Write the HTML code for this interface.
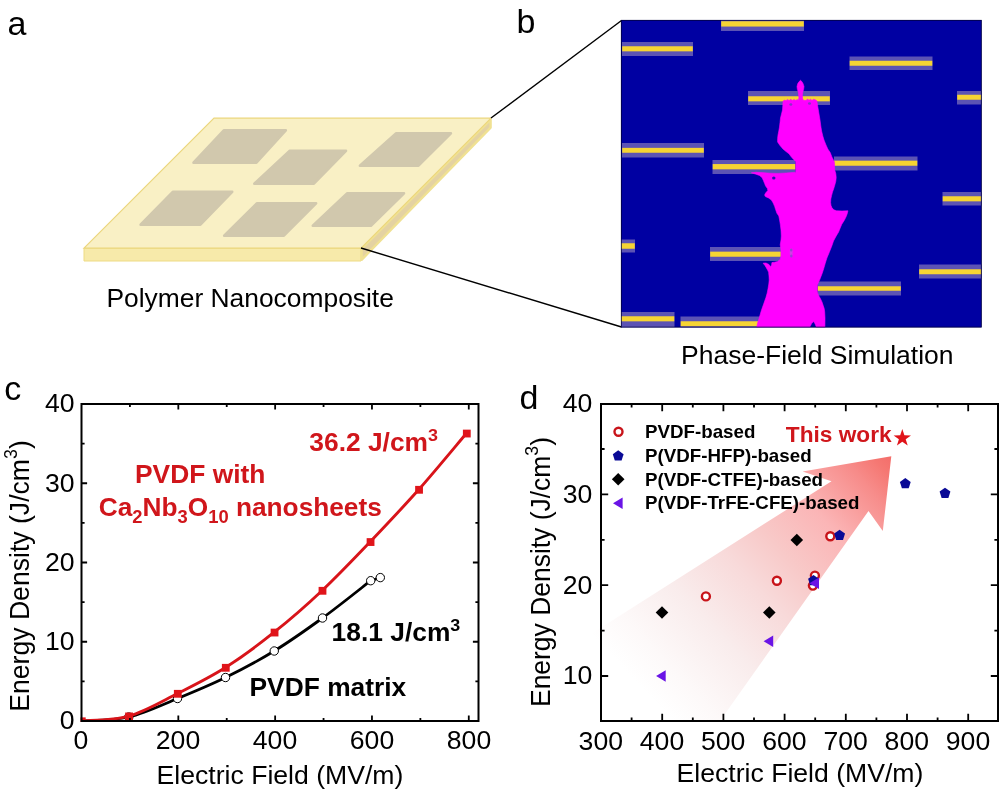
<!DOCTYPE html>
<html lang="en">
<head>
<meta charset="utf-8">
<title>Polymer nanocomposite energy density figure</title>
<style>
html,body{margin:0;padding:0;background:#fff;}
body{width:1000px;height:791px;overflow:hidden;}
svg{display:block;}
text{font-family:"Liberation Sans",Arial,sans-serif;fill:#000;}
.pl{font-size:34px;}
.tk{font-size:26.6px;}
.ax{font-size:26.6px;}
.cap{font-size:26.5px;}
.b{font-weight:bold;}
.red{fill:#d0161b;}
.lg{font-size:18.2px;font-weight:bold;}
</style>
</head>
<body>
<svg width="1000" height="791" viewBox="0 0 1000 791">
<defs>
<linearGradient id="arr" gradientUnits="userSpaceOnUse" x1="591" y1="634" x2="839.3" y2="400.7">
<stop offset="0" stop-color="#ffffff"/>
<stop offset="0.103" stop-color="#fdf9f9"/>
<stop offset="0.274" stop-color="#f9ecec"/>
<stop offset="0.449" stop-color="#f8dada"/>
<stop offset="0.575" stop-color="#f8c9c8"/>
<stop offset="0.73" stop-color="#fbb5b6"/>
<stop offset="0.89" stop-color="#f78c8a"/>
<stop offset="0.957" stop-color="#f57873"/>
<stop offset="1" stop-color="#f46e6a"/>
</linearGradient>
<clipPath id="simclip"><rect x="621" y="20" width="360.5" height="307.3"/></clipPath>
</defs>
<rect width="1000" height="791" fill="#ffffff"/>

<g id="panel-a">
<text class="pl" x="7.5" y="35.2">a</text>
<polygon points="84.0,248.2 361.0,248.2 361.0,261.0 84.0,261.0" fill="#f7eaaa" stroke="#eedb84" stroke-width="1"/>
<polygon points="361.6,248.6 490.6,119.6 490.6,127.6 361.6,259.8" fill="#e4d2a2" stroke="#f0e192" stroke-width="2.4" stroke-linejoin="round"/>
<polygon points="214.0,118.2 491.0,118.2 361.0,248.2 84.0,248.2" fill="#f9f0c5" stroke="#ecd67c" stroke-width="1.2"/>
<polygon points="223.8,130.3 285.8,130.3 256.4,162.7 193.5,162.7" fill="#d1c8ad" stroke="#d1c8ad" stroke-width="2.6" stroke-linejoin="round"/>
<polygon points="289.8,150.8 346.0,150.8 313.9,183.7 254.3,183.7" fill="#d1c8ad" stroke="#d1c8ad" stroke-width="2.6" stroke-linejoin="round"/>
<polygon points="396.2,133.3 450.9,133.3 418.5,165.7 359.9,165.7" fill="#d1c8ad" stroke="#d1c8ad" stroke-width="2.6" stroke-linejoin="round"/>
<polygon points="172.8,191.8 232.2,191.8 200.4,224.7 140.6,224.7" fill="#d1c8ad" stroke="#d1c8ad" stroke-width="2.6" stroke-linejoin="round"/>
<polygon points="256.8,203.3 316.1,203.3 283.9,235.7 224.2,235.7" fill="#d1c8ad" stroke="#d1c8ad" stroke-width="2.6" stroke-linejoin="round"/>
<polygon points="347.3,193.3 404.0,193.3 370.9,225.7 312.8,225.7" fill="#d1c8ad" stroke="#d1c8ad" stroke-width="2.6" stroke-linejoin="round"/>
<text class="cap" x="106.4" y="307" style="font-size:26.4px">Polymer Nanocomposite</text>
</g>
<line x1="491" y1="118" x2="621.5" y2="20.5" stroke="#000" stroke-width="1.4"/>
<line x1="361" y1="248" x2="621.5" y2="327" stroke="#000" stroke-width="1.4"/>
<g id="panel-b">
<text class="pl" x="516.6" y="32.6">b</text>
<rect x="621" y="20" width="360.5" height="307.3" fill="#0000a2"/>
<g clip-path="url(#simclip)">
<rect x="721" y="17" width="83.0" height="14.0" fill="#5c53b4"/>
<rect x="721.2" y="21.25" width="82.6" height="5.30" fill="#f6d433"/>
<rect x="622" y="42" width="71.0" height="14.0" fill="#5c53b4"/>
<rect x="622.2" y="46.25" width="70.6" height="5.10" fill="#f6d433"/>
<rect x="748" y="91" width="82.0" height="14.0" fill="#5c53b4"/>
<rect x="748.2" y="96.25" width="81.6" height="5.10" fill="#f6d433"/>
<rect x="622" y="143" width="82.0" height="14.5" fill="#5c53b4"/>
<rect x="622.2" y="147.85" width="81.6" height="4.90" fill="#f6d433"/>
<rect x="849.5" y="56.5" width="83.0" height="13.5" fill="#5c53b4"/>
<rect x="849.7" y="60.75" width="82.6" height="5.00" fill="#f6d433"/>
<rect x="957" y="91" width="25.0" height="13.5" fill="#5c53b4"/>
<rect x="957.2" y="94.75" width="24.6" height="5.00" fill="#f6d433"/>
<rect x="712.5" y="160" width="83.0" height="14.0" fill="#5c53b4"/>
<rect x="712.7" y="164.05" width="82.6" height="5.30" fill="#f6d433"/>
<rect x="620" y="239.5" width="15.0" height="13.0" fill="#5c53b4"/>
<rect x="620.2" y="243.25" width="14.6" height="5.50" fill="#f6d433"/>
<rect x="710" y="247" width="71.0" height="14.0" fill="#5c53b4"/>
<rect x="710.2" y="251.65" width="70.6" height="5.10" fill="#f6d433"/>
<rect x="834" y="156.5" width="83.5" height="14.0" fill="#5c53b4"/>
<rect x="834.2" y="160.65" width="83.1" height="5.10" fill="#f6d433"/>
<rect x="942.5" y="192" width="39.5" height="13.5" fill="#5c53b4"/>
<rect x="942.7" y="196.25" width="39.1" height="5.10" fill="#f6d433"/>
<rect x="919" y="264.5" width="63.0" height="14.0" fill="#5c53b4"/>
<rect x="919.2" y="269.25" width="62.6" height="5.00" fill="#f6d433"/>
<rect x="817.5" y="281.5" width="83.5" height="14.0" fill="#5c53b4"/>
<rect x="817.7" y="286.25" width="83.1" height="4.50" fill="#f6d433"/>
<rect x="620" y="312" width="54.5" height="15.0" fill="#5c53b4"/>
<rect x="620.2" y="316.25" width="54.1" height="5.10" fill="#f6d433"/>
<rect x="680.5" y="316.5" width="79.5" height="13.5" fill="#5c53b4"/>
<rect x="680.7" y="321.25" width="79.1" height="5.00" fill="#f6d433"/>
<polygon points="800.5,80.3 801.8,81.5 803.0,83.5 804.0,86.5 803.6,89.5 802.8,92.0 802.4,95.0 802.6,98.5 803.4,100.3 806.0,100.6 807.5,99.0 809.0,100.3 810.5,99.2 812.0,100.4 813.6,99.3 815.2,99.8 816.8,100.8 817.4,104.0 818.0,108.0 819.0,114.0 820.0,120.0 820.8,126.0 821.6,131.0 822.8,136.0 824.0,140.0 826.0,145.0 827.8,149.0 830.3,152.7 831.9,157.0 833.2,159.5 834.3,162.0 834.8,170.3 835.8,173.6 836.2,177.5 835.8,181.3 834.8,185.0 833.6,189.0 832.5,192.0 831.6,195.5 830.8,199.0 830.6,202.5 831.0,205.5 832.0,207.8 833.8,209.8 836.5,210.8 842.0,211.0 847.9,210.8 847.3,213.5 846.2,216.5 844.2,220.5 841.8,224.2 840.2,228.0 838.6,232.0 836.2,236.0 833.5,241.0 831.8,246.0 830.2,250.0 828.6,254.0 826.9,258.0 825.2,263.5 823.6,269.0 822.3,273.0 820.9,276.7 819.6,280.0 818.1,283.3 817.3,286.0 817.2,291.0 818.0,294.0 819.2,296.5 820.6,299.0 822.0,302.0 823.2,305.5 824.2,308.6 824.7,312.0 825.0,318.0 824.9,328.0 816.6,328.0 815.2,324.0 813.6,321.6 811.6,323.5 809.4,328.0 756.6,328.0 757.6,323.0 759.2,318.0 760.9,312.0 762.0,308.6 764.0,303.0 765.9,297.6 767.2,293.0 768.0,288.8 768.8,284.0 769.2,280.0 769.0,276.0 768.6,272.3 767.6,270.0 766.4,267.9 765.0,265.6 763.1,263.2 766.0,263.0 769.0,264.5 770.6,266.8 771.6,265.0 771.9,262.6 774.5,262.2 777.4,261.6 780.2,259.5 781.0,256.0 781.0,251.0 780.6,247.0 780.2,244.8 781.0,240.0 781.3,236.0 781.0,230.0 780.4,225.0 779.6,220.0 778.8,216.0 776.9,213.2 775.6,209.5 774.7,206.6 773.2,203.0 771.4,200.0 768.6,198.0 765.4,196.6 764.6,195.0 765.6,193.0 767.8,190.5 767.4,188.5 765.6,186.0 764.6,183.5 763.4,180.5 762.0,177.5 759.5,175.5 756.0,174.2 751.4,172.8 756.0,172.3 762.0,172.6 770.0,173.2 778.0,173.4 786.0,173.0 795.8,172.2 795.8,161.5 793.4,159.3 791.0,156.5 789.0,153.8 786.0,151.5 783.0,149.0 780.0,145.5 777.6,142.0 777.6,138.5 778.0,135.0 778.8,131.0 779.5,127.0 780.0,122.5 780.5,118.0 781.5,114.0 782.5,110.0 782.8,105.5 783.0,101.5 784.2,100.0 786.0,100.8 787.4,99.4 789.0,100.6 790.8,99.3 792.4,100.5 794.0,99.5 795.6,100.4 797.2,99.6 798.4,100.2 798.9,97.5 798.6,95.0 798.3,92.0 797.4,89.5 797.0,86.5 797.8,83.5 799.2,81.5" fill="#ff00ff" stroke="#ff00ff" stroke-width="0.6" stroke-linejoin="round"/>
<ellipse cx="773.8" cy="178" rx="1.7" ry="1.5" fill="#2a10b0"/>
<ellipse cx="791.2" cy="252.5" rx="1.5" ry="4" fill="#d23ee6"/>
<ellipse cx="791.2" cy="250" rx="1.2" ry="1.6" fill="#9a3fd0"/>
<ellipse cx="791.3" cy="256" rx="1.2" ry="1.5" fill="#9a3fd0"/>
<ellipse cx="790.8" cy="104.5" rx="1.5" ry="1.3" fill="#8a30c8"/>
<ellipse cx="809.5" cy="103.5" rx="1.5" ry="1.3" fill="#8a30c8"/>
</g>
<rect x="621.3" y="20.3" width="360" height="306.8" fill="none" stroke="#00003c" stroke-width="0.8"/>
<text class="cap" x="681" y="364">Phase-Field Simulation</text>
</g>
<g id="panel-c">
<text class="pl" x="4.3" y="399.8">c</text>
<clipPath id="cclip"><rect x="80.5" y="403" width="398" height="319"/></clipPath>
<g clip-path="url(#cclip)">
<path d="M81.5 721.0 C89.4 720.3 112.8 720.8 128.8 717.0 C144.8 713.2 161.4 705.1 177.5 698.5 C193.6 691.9 209.4 685.4 225.5 677.5 C241.6 669.6 258.1 660.9 274.2 651.0 C290.4 641.1 306.4 629.7 322.5 618.0 C338.6 606.3 362.7 586.9 370.7 580.7 L380.3 577.6" fill="none" stroke="#000" stroke-width="2.8"/>
<circle cx="128.75" cy="717" r="4.2" fill="#fff" stroke="#000" stroke-width="1"/>
<circle cx="177.5" cy="698.5" r="4.2" fill="#fff" stroke="#000" stroke-width="1"/>
<circle cx="225.5" cy="677.5" r="4.2" fill="#fff" stroke="#000" stroke-width="1"/>
<circle cx="274.25" cy="651" r="4.2" fill="#fff" stroke="#000" stroke-width="1"/>
<circle cx="322.5" cy="618" r="4.2" fill="#fff" stroke="#000" stroke-width="1"/>
<circle cx="370.7" cy="580.7" r="4.2" fill="#fff" stroke="#000" stroke-width="1"/>
<circle cx="380.3" cy="577.6" r="4.2" fill="#fff" stroke="#000" stroke-width="1"/>
<path d="M81.5 721.0 C89.4 720.2 112.8 720.7 128.8 716.1 C144.8 711.5 161.4 701.6 177.5 693.5 C193.6 685.4 209.4 677.7 225.5 667.5 C241.6 657.3 258.1 645.1 274.2 632.2 C290.4 619.4 306.2 605.6 322.2 590.5 C338.2 575.4 354.2 558.6 370.2 541.8 C386.3 524.9 402.7 507.6 418.8 489.5 C434.8 471.4 458.5 442.6 466.5 433.2" fill="none" stroke="#d8141a" stroke-width="2.9"/>
<rect x="77.90" y="717.40" width="7.8" height="7.8" fill="#e0141a"/>
<rect x="125.15" y="712.50" width="7.8" height="7.8" fill="#e0141a"/>
<rect x="173.90" y="689.90" width="7.8" height="7.8" fill="#e0141a"/>
<rect x="221.90" y="663.90" width="7.8" height="7.8" fill="#e0141a"/>
<rect x="270.65" y="628.65" width="7.8" height="7.8" fill="#e0141a"/>
<rect x="318.60" y="586.90" width="7.8" height="7.8" fill="#e0141a"/>
<rect x="366.65" y="538.15" width="7.8" height="7.8" fill="#e0141a"/>
<rect x="415.15" y="485.90" width="7.8" height="7.8" fill="#e0141a"/>
<rect x="462.90" y="429.65" width="7.8" height="7.8" fill="#e0141a"/>
</g>
<rect x="81.5" y="404" width="397.0" height="317" fill="none" stroke="#000" stroke-width="2"/>
<path d="M178.32 721v-5.6 M178.32 404v5.6 M275.14 721v-5.6 M275.14 404v5.6 M371.96 721v-5.6 M371.96 404v5.6 M468.78 721v-5.6 M468.78 404v5.6 M129.91 721v-3.1 M129.91 404v3.1 M226.73 721v-3.1 M226.73 404v3.1 M323.55 721v-3.1 M323.55 404v3.1 M420.37 721v-3.1 M420.37 404v3.1 M81.5 641.75h5.6 M478.5 641.75h-5.6 M81.5 562.50h5.6 M478.5 562.50h-5.6 M81.5 483.25h5.6 M478.5 483.25h-5.6 M81.5 681.38h3.1 M478.5 681.38h-3.1 M81.5 602.12h3.1 M478.5 602.12h-3.1 M81.5 522.88h3.1 M478.5 522.88h-3.1 M81.5 443.62h3.1 M478.5 443.62h-3.1" stroke="#000" stroke-width="1.8" fill="none"/>
<text class="tk" text-anchor="end" x="74.6" y="729.4">0</text>
<text class="tk" text-anchor="end" x="74.6" y="650.1">10</text>
<text class="tk" text-anchor="end" x="74.6" y="570.9">20</text>
<text class="tk" text-anchor="end" x="74.6" y="491.6">30</text>
<text class="tk" text-anchor="end" x="74.6" y="412.4">40</text>
<text class="tk" text-anchor="middle" x="81.0" y="749.2">0</text>
<text class="tk" text-anchor="middle" x="178.0" y="749.2">200</text>
<text class="tk" text-anchor="middle" x="275.0" y="749.2">400</text>
<text class="tk" text-anchor="middle" x="372.0" y="749.2">600</text>
<text class="tk" text-anchor="middle" x="469.0" y="749.2">800</text>
<text class="ax" x="156.6" y="783.5">Electric Field (MV/m)</text>
<text class="ax" style="font-size:27px" transform="translate(28.8,711.8) rotate(-90) scale(0.986,1)">Energy Density (J/cm<tspan font-size="18" dy="-11.5">3</tspan><tspan dy="11.5">)</tspan></text>
<text class="b red" font-size="25" transform="translate(309.3,450.5) scale(1.055,1)">36.2 J/cm<tspan font-size="17" dy="-10">3</tspan></text>
<text class="b red" font-size="25" transform="translate(135,482.6) scale(1.055,1)">PVDF with</text>
<text class="b red" font-size="25" transform="translate(98.8,516.3) scale(1.05,1)">Ca<tspan font-size="17.5" dy="6.6">2</tspan><tspan dy="-6.6">Nb</tspan><tspan font-size="17.5" dy="6.6">3</tspan><tspan dy="-6.6">O</tspan><tspan font-size="17.5" dy="6.6">10</tspan><tspan dy="-6.6"> nanosheets</tspan></text>
<text class="b" font-size="25" transform="translate(331.6,640.5) scale(1.055,1)">18.1 J/cm<tspan font-size="17" dy="-10">3</tspan></text>
<text class="b" font-size="25" transform="translate(249.5,695.8) scale(1.055,1)">PVDF matrix</text>
</g>
<g id="panel-d">
<text class="pl" x="519.5" y="408.8">d</text>
<clipPath id="dclip"><rect x="585" y="404" width="413" height="317"/></clipPath>
<g clip-path="url(#dclip)">
<polygon points="591.0,634.0 831.5,481.2 802.6,471.4 891.3,456.3 882.8,531.0 868.5,511.0 699.7,749.6" fill="url(#arr)"/>
</g>
<rect x="601" y="404" width="397" height="317" fill="none" stroke="#000" stroke-width="2"/>
<path d="M662.20 721v-7.2 M662.20 404v7.2 M723.40 721v-7.2 M723.40 404v7.2 M784.60 721v-7.2 M784.60 404v7.2 M845.80 721v-7.2 M845.80 404v7.2 M907.00 721v-7.2 M907.00 404v7.2 M968.20 721v-7.2 M968.20 404v7.2 M631.60 721v-3.6 M631.60 404v3.6 M692.80 721v-3.6 M692.80 404v3.6 M754.00 721v-3.6 M754.00 404v3.6 M815.20 721v-3.6 M815.20 404v3.6 M876.40 721v-3.6 M876.40 404v3.6 M937.60 721v-3.6 M937.60 404v3.6 M601 676.00h7.2 M998 676.00h-7.2 M601 585.20h7.2 M998 585.20h-7.2 M601 494.40h7.2 M998 494.40h-7.2 M601 630.60h3.6 M998 630.60h-3.6 M601 539.80h3.6 M998 539.80h-3.6 M601 449.00h3.6 M998 449.00h-3.6" stroke="#000" stroke-width="1.8" fill="none"/>
<text class="tk" text-anchor="end" x="592.3" y="684.4">10</text>
<text class="tk" text-anchor="end" x="592.3" y="593.6">20</text>
<text class="tk" text-anchor="end" x="592.3" y="502.8">30</text>
<text class="tk" text-anchor="end" x="592.3" y="412.0">40</text>
<text class="tk" text-anchor="middle" x="600.8" y="749.6">300</text>
<text class="tk" text-anchor="middle" x="662.0" y="749.6">400</text>
<text class="tk" text-anchor="middle" x="723.2" y="749.6">500</text>
<text class="tk" text-anchor="middle" x="784.4" y="749.6">600</text>
<text class="tk" text-anchor="middle" x="845.6" y="749.6">700</text>
<text class="tk" text-anchor="middle" x="906.8" y="749.6">800</text>
<text class="tk" text-anchor="middle" x="968.0" y="749.6">900</text>
<text class="ax" x="676.6" y="781.6">Electric Field (MV/m)</text>
<text class="ax" style="font-size:27px" transform="translate(549.7,707) rotate(-90) scale(0.98,1)">Energy Density (J/cm<tspan font-size="18" dy="-11.5">3</tspan><tspan dy="11.5">)</tspan></text>
<circle cx="705.9" cy="596.4" r="4" fill="#fff" stroke="#c8141a" stroke-width="2.4"/>
<circle cx="776.9" cy="580.7" r="4" fill="#fff" stroke="#c8141a" stroke-width="2.4"/>
<circle cx="812.9" cy="585.6" r="4" fill="#fff" stroke="#c8141a" stroke-width="2.4"/>
<circle cx="814.9" cy="575.6" r="4" fill="#fff" stroke="#c8141a" stroke-width="2.4"/>
<polygon points="813.5,574.9 818.9,578.8 816.9,585.2 810.1,585.2 808.1,578.8" fill="#0a0a96"/>
<polygon points="809.4,583.2 819.0,577.4 819.0,589.0" fill="#6a14e6"/>
<circle cx="830.3" cy="536.2" r="4" fill="#fff" stroke="#c8141a" stroke-width="2.4"/>
<polygon points="839.6,529.7 845.0,533.6 843.0,540.0 836.2,540.0 834.2,533.6" fill="#0a0a96"/>
<polygon points="905.3,478.0 910.7,481.9 908.7,488.3 901.9,488.3 899.9,481.9" fill="#0a0a96"/>
<polygon points="945.0,487.7 950.4,491.6 948.4,498.0 941.6,498.0 939.6,491.6" fill="#0a0a96"/>
<polygon points="662.0,606.2 668.3,612.5 662.0,618.8 655.7,612.5" fill="#000"/>
<polygon points="769.3,606.2 775.6,612.5 769.3,618.8 763.0,612.5" fill="#000"/>
<polygon points="796.8,533.7 803.1,540.0 796.8,546.3 790.5,540.0" fill="#000"/>
<polygon points="656.1,676.0 665.7,670.2 665.7,681.8" fill="#6a14e6"/>
<polygon points="763.6,641.3 773.2,635.5 773.2,647.1" fill="#6a14e6"/>
<circle cx="618.5" cy="431.8" r="4" fill="#fff" stroke="#c8141a" stroke-width="2.4"/>
<polygon points="618.2,450.3 623.6,454.2 621.6,460.6 614.8,460.6 612.8,454.2" fill="#0a0a96"/>
<polygon points="618.2,473.0 624.5,479.3 618.2,485.6 611.9,479.3" fill="#000"/>
<polygon points="613.0,503.2 622.6,497.4 622.6,509.0" fill="#6a14e6"/>
<text class="lg" transform="translate(645,438.20) scale(1.03,1)">PVDF-based</text>
<text class="lg" transform="translate(645,461.95) scale(1.03,1)">P(VDF-HFP)-based</text>
<text class="lg" transform="translate(645,485.70) scale(1.03,1)">P(VDF-CTFE)-based</text>
<text class="lg" transform="translate(645,509.45) scale(1.03,1)">P(VDF-TrFE-CFE)-based</text>
<text class="b red" font-size="22" transform="translate(785.8,442.4) scale(1.03,1)">This work</text>
<polygon points="902.3,429.0 904.4,435.3 911.0,435.4 905.7,439.3 907.7,445.6 902.3,441.8 896.9,445.6 898.9,439.3 893.6,435.4 900.2,435.3" fill="#e0141a"/>
</g>
</svg>
</body>
</html>
